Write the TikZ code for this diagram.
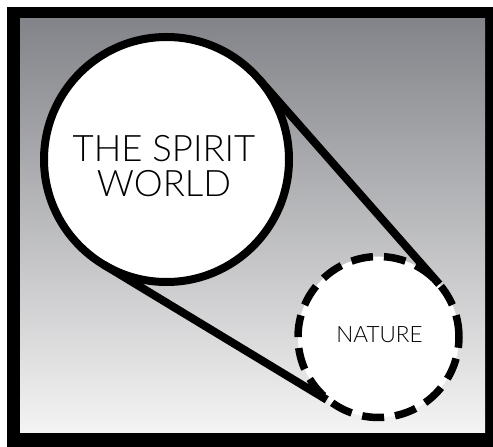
\documentclass[tikz,border=0pt]{standalone}
\usepackage{fontspec}
\setmainfont{Lato Light}
\usetikzlibrary{calc}
\definecolor{gtop}{RGB}{131,132,137}
\definecolor{gmid}{RGB}{178,179,183}
\definecolor{gbot}{RGB}{244,244,244}
\tikzset{
  ring/.style={circle, draw=black, fill=white, inner sep=0pt, outer sep=0pt, align=center},
  link/.style={draw=black, line width=8pt}
}
\begin{document}
\begin{tikzpicture}[x=1pt,y=1pt]
\useasboundingbox (0,0) rectangle (493,447);
\fill[white] (0,0) rectangle (493,447);
\fill[black] (7,0) rectangle (493,440);
\shade[top color=gtop, middle color=gmid, bottom color=gbot] (20,14) rectangle (485,428);
\node[ring, line width=8pt, minimum size=245pt] (spirit) at (166.5,287.5) {};
\node[ring, line width=7.5pt, minimum size=161pt, dash pattern=on 22pt off 11pt,
      preaction={draw=white, line width=7.5pt}] (nature) at (378.5,110) {};
\draw[link] (spirit.41.3) -- (nature.41.3);
\draw[link, shorten >=12pt] (spirit.-121.2) -- (nature.-121.2);
\node[align=center, font=\fontsize{36.5}{35}\selectfont, inner sep=0pt] (spirittext) at (164,281) {THE SPIRIT\\WORLD};
\node[font=\fontsize{22.5}{27}\selectfont, inner sep=0pt] (naturetext) at (379.5,112.5) {NATURE};
\end{tikzpicture}
\end{document}
